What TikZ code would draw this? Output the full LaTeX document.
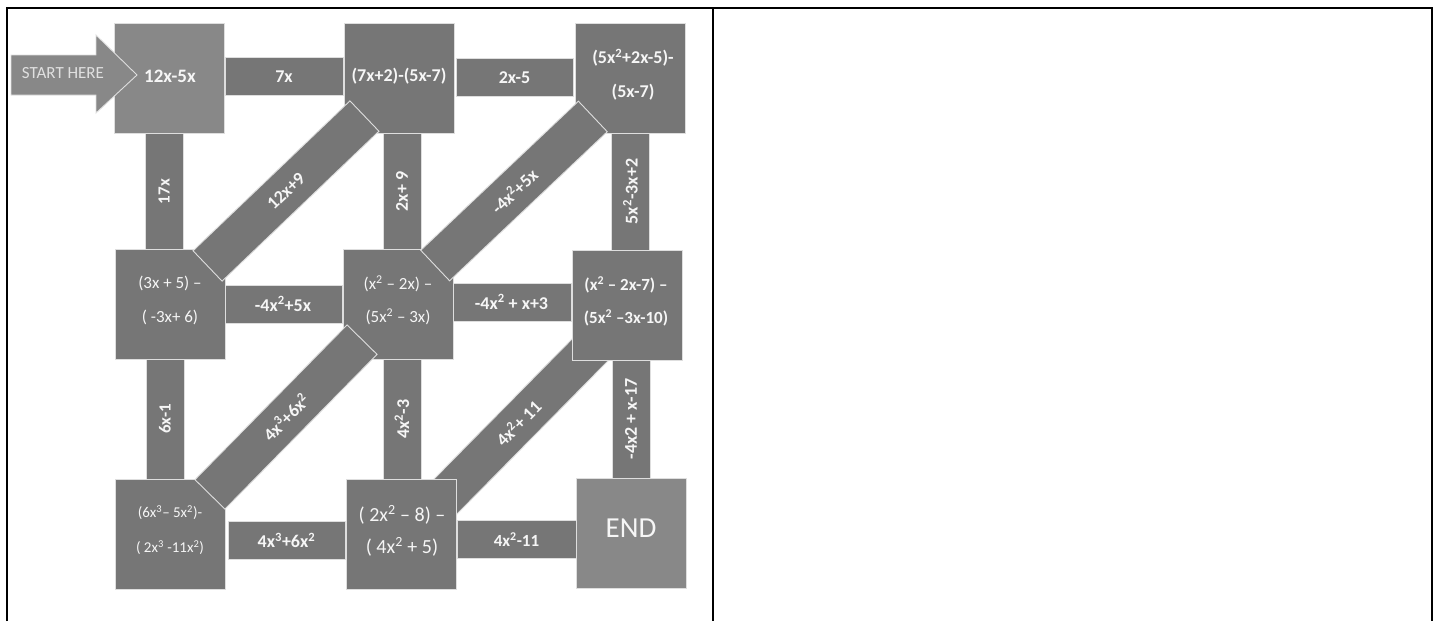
\documentclass[tikz,border=0pt]{standalone}
\usepackage{fontspec}
\setmainfont{Carlito}
\usetikzlibrary{calc}
\definecolor{tiledark}{RGB}{118,118,118}
\definecolor{tilelight}{RGB}{136,136,136}
\definecolor{tileedge}{RGB}{222,222,222}
\definecolor{tiletext}{RGB}{246,246,246}
\newcommand{\myup}[1]{\textsuperscript{#1}}
\begin{document}
\begin{tikzpicture}[x=1pt,y=-1pt,
  tile/.style={fill=tiledark, draw=tileedge, line width=0.9pt, inner sep=0pt, minimum width=110pt, minimum height=110pt},
  tilelt/.style={tile, fill=tilelight},
  hbar/.style={fill=tiledark, draw=tileedge, line width=0.9pt, inner sep=0pt, minimum width=118pt, minimum height=38pt, text=tiletext, font=\fontsize{18}{22}\selectfont\bfseries},
  vbar/.style={hbar, minimum width=117pt, rotate=90},
  dbar/.style={hbar, minimum width=217pt, minimum height=42pt},
  lbl/.style={text=tiletext, align=center, inner sep=0pt},
  frame/.style={line width=2pt, black}
]
\useasboundingbox (0,0) rectangle (1437,621);
% diagonal under the tiles
\node[dbar, minimum height=41pt, rotate=45.4] (d4x11) at (518,423) {4x\myup{2}+ 11};
% straight bars
\node[hbar] (h7x) at (284,76.5) {7x};
\node[hbar, minimum width=117pt] (h2x5) at (514.5,77.5) {2x-5};
\node[hbar] (h4x5x) at (283,304) {-4x\myup{2}+5x};
\node[hbar, minimum width=119pt] (h4xx3) at (511.5,302) {-4x\myup{2} + x+3};
\node[hbar, minimum width=117pt] (h4x36) at (286.5,540.5) {4x\myup{3}+6x\myup{2}};
\node[hbar, minimum width=119pt, font=\fontsize{17}{22}\selectfont\bfseries] (h4x11) at (516.5,539.5) {4x\myup{2}-11};
\node[vbar, font=\fontsize{17}{22}\selectfont\bfseries] (v17x) at (164,191.5) {17x};
\node[vbar] (v2x9) at (402,191.5) {2x+ 9};
\node[vbar] (v5x) at (630.5,191.5) {5x\myup{2}-3x+2};
\node[vbar, minimum width=120pt, font=\fontsize{17}{22}\selectfont\bfseries] (v6x) at (165,419) {6x-1};
\node[vbar, minimum width=120pt] (v4x3) at (402,419) {4x\myup{2}-3};
\node[vbar, minimum width=120pt] (v4x2) at (631,419) {-4x2 + x-17};
% tiles
\node[tilelt] (b11) at (169,78) {};
\node[tile] (b12) at (399,78) {};
\node[tile] (b13) at (630.5,78) {};
\node[tile] (b21) at (170,304) {};
\node[tile] (b22) at (398.5,304.5) {};
\node[tile] (b23) at (627,305.5) {};
\node[tile] (b31) at (170,534) {};
\node[tile] (b32) at (401,534) {};
\node[tilelt] (b33) at (631,533.5) {};
% start arrow
\draw[fill=tilelight, draw=tileedge, line width=0.9pt] (11,55) -- (96,55) -- (96,35) -- (137,75) -- (96,113) -- (96,95) -- (11,95) -- cycle;
\node[lbl, text=white!88!black, font=\fontsize{17}{20}\selectfont] (start) at (63,73) {START HERE};
% diagonals over the tiles
\node[dbar, rotate=43.7] (d12x9) at (286,191) {12x+9};
\node[dbar, rotate=43.4] (d4x5x) at (514,191) {-4x\myup{2}+5x};
\node[dbar, rotate=45.5] (d4x36) at (286,417) {4x\myup{3}+6x\myup{2}};
% tile texts
\node[lbl, font=\fontsize{19}{34}\selectfont\bfseries] (t11) at (170,76) {12x-5x};
\node[lbl, font=\fontsize{18}{34}\selectfont\bfseries] (t12) at (399,76) {(7x+2)-(5x-7)};
\node[lbl, font=\fontsize{18}{34}\selectfont\bfseries] (t13) at (633,75) {(5x\myup{2}+2x-5)-\\(5x-7)};
\node[lbl, font=\fontsize{17}{34}\selectfont] (t21) at (170,300) {(3x + 5) –\\( -3x+ 6)};
\node[lbl, font=\fontsize{17}{33}\selectfont] (t22) at (398,300.5) {(x\myup{2} – 2x) –\\(5x\myup{2} – 3x)};
\node[lbl, font=\fontsize{17}{33}\selectfont\bfseries] (t23) at (626,301.5) {(x\myup{2} – 2x-7) –\\(5x\myup{2} –3x-10)};
\node[lbl, font=\fontsize{15}{35}\selectfont] (t31) at (170,530.5) {(6x\myup{3}– 5x\myup{2})-\\( 2x\myup{3} -11x\myup{2})};
\node[lbl, font=\fontsize{20}{32}\selectfont] (t32) at (402,531) {( 2x\myup{2} – 8) –\\( 4x\myup{2} + 5)};
\node[lbl, font=\fontsize{29}{34}\selectfont] (t33) at (631,528) {END};
% table frame
\draw[frame] (7,621) -- (7,8) -- (1432,8) -- (1432,621);
\draw[frame] (713,8) -- (713,621);
\end{tikzpicture}
\end{document}
